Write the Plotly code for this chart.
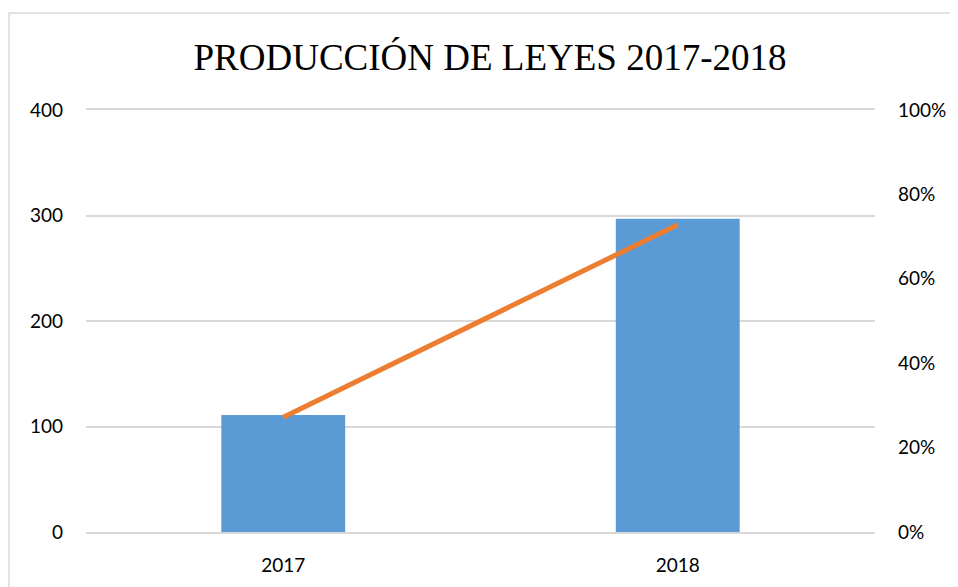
import plotly.graph_objects as go

years = ["2017", "2018"]
laws = [111, 297]
share = [0.272, 0.728]

OFF = 8  # default page body margin
W, H = 958 - OFF, 587 - OFF
L, T = 86 - OFF, 110 - OFF
R = W - (875 - OFF)
B = H - (532 - OFF)
pw, ph = W - L - R, H - T - B

fig = go.Figure()
fig.add_trace(go.Bar(x=years, y=laws, marker=dict(color="#5B9BD5", line=dict(width=0)),
                     yaxis="y", showlegend=False))
fig.add_trace(go.Scatter(x=years, y=share, mode="lines", line=dict(color="#ED7D31", width=5),
                         yaxis="y2", showlegend=False))

tick_font = dict(family="Lato, Carlito, Calibri, sans-serif", size=19, color="#000000")
fig.update_layout(
    width=W, height=H,
    margin=dict(l=L, r=R, t=T, b=B),
    paper_bgcolor="white", plot_bgcolor="white",
    bargap=0.686,
    title=dict(text="PRODUCCIÓN DE LEYES 2017-2018",
               font=dict(family="Liberation Serif, Times New Roman, serif", size=37, color="#000000"),
               x=(490 - 86) / pw, xref="paper", xanchor="center",
               y=1 - (57 - OFF) / H, yref="container", yanchor="middle"),
    xaxis=dict(showgrid=False, showline=True, mirror=True, linecolor="#D9D9D9", linewidth=1.5,
               tickfont=tick_font, ticks="", ticklabelstandoff=15),
    yaxis=dict(range=[0, 400], dtick=100, showgrid=True, gridcolor="#D9D9D9", gridwidth=1.5,
               zeroline=False, showline=False, tickfont=tick_font, ticklabelstandoff=22),
    yaxis2=dict(range=[0, 1], dtick=0.2, tickformat=".0%", overlaying="y", side="right",
                showgrid=False, zeroline=False, showline=False, tickfont=tick_font,
                ticklabelstandoff=22),
    shapes=[dict(type="rect", xref="paper", yref="paper",
                 x0=(9 - 86) / pw, x1=(W + 40 - L) / pw,
                 y0=-60 / ph, y1=(532 - 13) / ph,
                 line=dict(color="#D9D9D9", width=1.5), fillcolor="rgba(0,0,0,0)", layer="below")],
)

fig.write_html("out.html")
